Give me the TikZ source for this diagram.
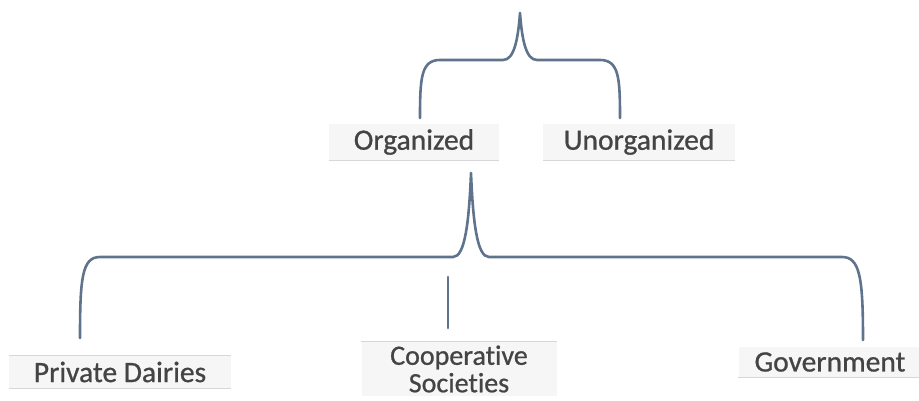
\documentclass[tikz,border=0pt]{standalone}
\usepackage{fontspec}
\setmainfont{Carlito}[Ligatures=NoCommon, FakeBold=0.8]
\definecolor{txt}{RGB}{68,68,68}
\definecolor{ln}{RGB}{95,115,140}
\definecolor{boxfill}{RGB}{246,246,246}
\definecolor{boxline}{RGB}{215,215,215}
\tikzset{
  lbl/.style={fill=boxfill, text=txt, font=\fontsize{29.5}{26}\selectfont, inner sep=0pt, align=center},
  brace/.style={draw=ln, line width=2.6pt, line cap=round, line join=round},
  rule/.style={draw=boxline, line width=0.8pt}
}
\begin{document}
\begin{tikzpicture}[x=1pt,y=-1pt]
\useasboundingbox (0,0) rectangle (919,400);
% boxes / labels
\node[lbl, minimum width=170, minimum height=36] (org) at (414,142) {Organized};
\node[lbl, minimum width=192, minimum height=36] (unorg) at (639,142) {Unorganized};
\node[lbl, minimum width=222, minimum height=32] (priv) at (120,372) {Private Dairies};
\node[lbl, minimum width=195, minimum height=54, font=\fontsize{28}{27.5}\selectfont] (coop) at (459,369) {Cooperative\\Societies};
\node[lbl, minimum width=183, minimum height=30] (gov) at (830,362) {Government};
% faint rules
\draw[rule] (org.south west) -- (org.south east);
\draw[rule] (unorg.south west) -- (unorg.south east);
\draw[rule] (priv.north west) -- (priv.north east);
\draw[rule] (priv.south west) -- (priv.south east);
\draw[rule] (coop.north west) -- (coop.north east);
\draw[rule] (gov.south west) -- (gov.south east);
% brace coordinates
\coordinate (t1) at (420,118);
\coordinate (t2) at (620,118);
\coordinate (tp) at (520,13);
\coordinate (b1) at (80,338);
\coordinate (b2) at (863,340);
\coordinate (bp) at (471,173);
\coordinate (c1) at (448,277);
\coordinate (c2) at (448,328);
% top brace
\draw[brace] (t1) .. controls (420,78) and (421,60) .. (440,60) -- (503,60)
  .. controls (514,60) and (518,40) .. (tp)
  .. controls (522,40) and (526,60) .. (537,60) -- (600,60)
  .. controls (619,60) and (620,78) .. (t2);
% bottom brace
\draw[brace] (b1) .. controls (80,278) and (82,257) .. (100,257) -- (453,257)
  .. controls (465,257) and (469,222) .. (bp)
  .. controls (473,222) and (477,257) .. (489,257) -- (842,257)
  .. controls (860,257) and (863,278) .. (b2);
% cooperative connector
\draw[brace] (c1) -- (c2);
\end{tikzpicture}
\end{document}
